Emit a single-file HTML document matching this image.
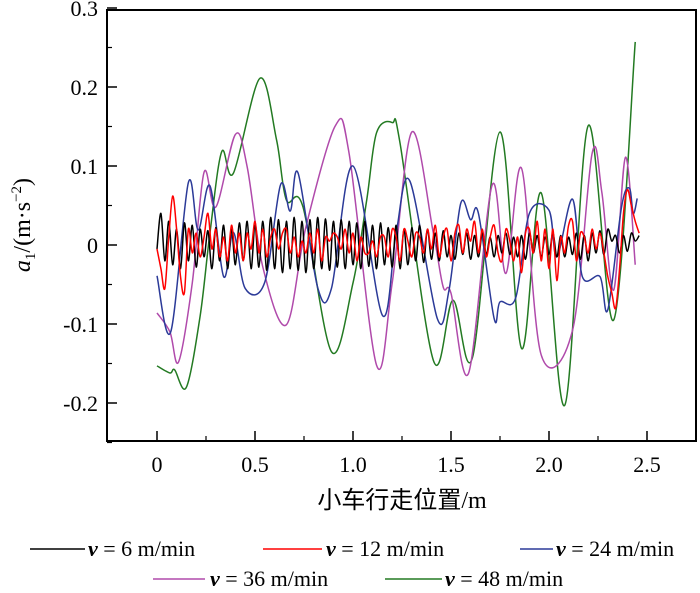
<!DOCTYPE html>
<html><head><meta charset="utf-8"><style>
body{margin:0;background:#fff;}
svg{display:block;font-family:"Liberation Serif","Noto Serif CJK SC",serif;}
</style></head><body>
<svg id="chart" width="700" height="593" viewBox="0 0 700 593">
<rect x="107" y="10" width="589" height="431" fill="none" stroke="#000" stroke-width="2"/>
<g id="ticks"></g>
<g id="series"></g>
<text x="402" y="508" font-size="24" text-anchor="middle" font-family="'Liberation Serif','Noto Sans CJK SC',serif">小车行走位置/m</text>
<text transform="translate(30,225) rotate(-90)" font-size="24" text-anchor="middle"><tspan font-style="italic">a</tspan><tspan font-size="15" dy="5">1</tspan><tspan dy="-5">/(m·s</tspan><tspan font-size="15" dy="-9">−2</tspan><tspan dy="9">)</tspan></text>
<g id="legend"></g>
</svg>
<script>
const xTicks=[0,0.5,1.0,1.5,2.0,2.5];
const xTickLabels=["0","0.5","1.0","1.5","2.0","2.5"];
const yTicks=[-0.2,-0.1,0,0.1,0.2,0.3];
const yTickLabels=["-0.2","-0.1","0","0.1","0.2","0.3"];
const seriesNames=["v = 6 m/min","v = 12 m/min","v = 24 m/min","v = 36 m/min","v = 48 m/min"];
const greenX=[0,0.066,0.09,0.15,0.22,0.27,0.33,0.39,0.525,0.61,0.66,0.745,0.89,1.0,1.07,1.12,1.2,1.24,1.41,1.51,1.61,1.75,1.86,1.96,2.08,2.2,2.33,2.44];
const greenY=[-0.153,-0.162,-0.158,-0.18,-0.09,0.015,0.118,0.091,0.211,0.133,0.057,0.048,-0.135,-0.048,0.057,0.142,0.155,0.129,-0.146,-0.07,-0.142,0.143,-0.131,0.066,-0.203,0.151,-0.095,0.257];
const purpleX=[0,0.066,0.11,0.18,0.24,0.3,0.4,0.46,0.54,0.66,0.76,0.91,0.98,1.12,1.2,1.3,1.41,1.46,1.5,1.59,1.71,1.78,1.86,1.96,2.12,2.22,2.27,2.33,2.39,2.44];
const purpleY=[-0.086,-0.11,-0.148,-0.048,0.092,0.048,0.14,0.099,-0.028,-0.101,0.023,0.151,0.116,-0.152,-0.048,0.143,0.015,-0.053,-0.061,-0.162,0.076,-0.036,0.097,-0.139,-0.108,0.116,0.066,-0.057,0.111,-0.025];
const blueX=[0,0.07,0.16,0.21,0.27,0.34,0.39,0.45,0.55,0.63,0.68,0.72,0.82,0.89,1.0,1.15,1.22,1.29,1.43,1.49,1.55,1.6,1.64,1.72,1.75,1.83,1.9,2.0,2.04,2.12,2.17,2.26,2.3,2.37,2.41,2.43,2.45];
const blueY=[-0.039,-0.11,0.079,0.019,0.075,-0.04,0.016,-0.055,-0.047,0.076,0.043,0.091,-0.054,-0.055,0.1,-0.089,0.015,0.081,-0.093,-0.057,0.053,0.032,0.04,-0.093,-0.072,-0.067,0.04,0.044,-0.015,0.058,-0.04,-0.04,-0.082,0.048,0.072,0.04,0.059];
const blackY=[-0.005,0.04,-0.02,0.03,-0.025,0.02,-0.03,0.028,-0.02,0.025,-0.028,0.02,-0.015,0.018,-0.03,0.022,-0.02,0.025,-0.03,0.02,-0.025,0.028,-0.02,0.03,-0.03,0.025,-0.028,0.03,-0.032,0.035,-0.03,0.032,-0.035,0.03,-0.03,0.035,-0.032,0.03,-0.035,0.032,-0.03,0.035,-0.03,0.033,-0.032,0.03,-0.028,0.032,-0.03,0.03,-0.025,0.028,-0.03,0.03,-0.027,0.025,-0.03,0.028,-0.025,0.022,-0.028,0.025,-0.03,0.02,-0.025,0.022,-0.02,0.025,-0.022,0.02,-0.018,0.015,-0.02,0.018,-0.015,0.012,-0.018,0.015,-0.012,0.015,-0.018,0.012,-0.015,0.015,-0.012,0.01,-0.015,0.012,-0.01,0.015,-0.012,0.01,-0.015,0.012,-0.018,0.015,-0.01,0.012,-0.015,0.01,-0.012,0.015,-0.015,0.012,-0.015,0.01,-0.012,0.015,-0.018,0.012,-0.02,0.015,-0.01,0.018,-0.012,0.02,0.005,0.012,-0.01,0.012,-0.008,0.015,0.005,0.012];
const redY=[-0.005,-0.03,-0.055,0.01,0.062,0.02,-0.04,-0.06,0.02,-0.01,0.015,-0.015,0.01,0.04,-0.005,0.02,-0.015,0.01,-0.02,0.025,-0.01,0.015,-0.02,0.015,-0.005,0.03,-0.01,0.02,-0.015,0.01,0.02,-0.005,0.015,0.02,-0.01,0.01,-0.015,0.005,-0.01,0.015,-0.01,0.02,-0.02,0.01,0.005,0.015,0.01,-0.005,0.02,-0.01,0.015,-0.02,0.01,-0.01,-0.01,0.005,-0.015,0.01,0.01,-0.015,0.02,0.01,-0.02,0.02,0.005,-0.015,0.015,0.01,-0.01,0.02,-0.005,0.025,-0.015,0.01,0.02,-0.02,0.015,0.025,-0.01,0.02,0.005,0.03,-0.01,0.02,-0.015,0.01,0.025,-0.01,-0.02,0.02,0.005,-0.02,0.01,-0.035,0.015,0.02,-0.01,0.03,-0.02,0.02,-0.03,0.02,-0.045,0.01,-0.01,0.025,0.03,-0.02,0.015,0.01,-0.01,0.02,-0.005,0.015,-0.01,-0.04,-0.06,-0.08,-0.03,0.04,0.07,0.05,0.03,0.015];
const noiseStep=0.02;

const X=v=>157+v*196, Y=v=>245-v*790;
const NS="http://www.w3.org/2000/svg";
const tg=document.getElementById('ticks');
function mk(tag,attrs,parent){const e=document.createElementNS(NS,tag);for(const k in attrs)e.setAttribute(k,attrs[k]);parent.appendChild(e);return e;}
xTicks.forEach((t,i)=>{
  const l=mk('line',{x1:X(t),x2:X(t),y1:441,y2:431,stroke:'#000','stroke-width':1.5},tg);
  
  
  if(i<xTicks.length-1){const m=mk('line',{x1:X(t+0.25),x2:X(t+0.25),y1:441,y2:436,stroke:'#000','stroke-width':1.2},tg);
  
  }
  const tx=mk('text',{x:X(t),y:472,'font-size':22,'text-anchor':'middle'},tg);tx.textContent=xTickLabels[i];
  
  
});
yTicks.forEach((t,i)=>{
  const l=mk('line',{x1:107,x2:117,y1:Y(t),y2:Y(t),stroke:'#000','stroke-width':1.5},tg);
  
  
  const m=mk('line',{x1:107,x2:112,y1:Y(t-0.05),y2:Y(t-0.05),stroke:'#000','stroke-width':1.2},tg);
  
  
  const tx=mk('text',{x:98,y:Y(t)+8,'font-size':22,'text-anchor':'end'},tg);tx.textContent=yTickLabels[i];
  
  
});
function smooth(xs,ys){const p=xs.map((x,i)=>[X(x),Y(ys[i])]);let d=`M${p[0][0]},${p[0][1]}`;
  for(let i=0;i<p.length-1;i++){const p0=p[Math.max(0,i-1)],p1=p[i],p2=p[i+1],p3=p[Math.min(p.length-1,i+2)];
  d+=`C${p1[0]+(p2[0]-p0[0])/6},${p1[1]+(p2[1]-p0[1])/6} ${p2[0]-(p3[0]-p1[0])/6},${p2[1]-(p3[1]-p1[1])/6} ${p2[0]},${p2[1]}`;}return d;}
function noisy(ys){return smooth(ys.map((v,i)=>i*noiseStep),ys);}
const sg=document.getElementById('series');
const defs=[[noisy(blackY),'#000','series-6'],[noisy(redY),'#f00','series-12'],[smooth(blueX,blueY),'#2b3a98','series-24'],[smooth(purpleX,purpleY),'#b04aab','series-36'],[smooth(greenX,greenY),'#237a22','series-48']];
const order=[4,3,2,0,1];
order.forEach(i=>{const d=defs[i];const p=mk('path',{d:d[0],fill:'none',stroke:d[1],'stroke-width':1.5},sg);
  
  });
const lg=document.getElementById('legend');
const lp=[[30,85,88,556],[263,322,326,556],[520,553,556,556],[153,205,210,586],[385,442,445,586]];
lp.forEach((q,i)=>{
  const l=mk('line',{x1:q[0],x2:q[1],y1:q[3]-7,y2:q[3]-7,stroke:defs[i][1],'stroke-width':1.5},lg);
  
  
  const t=mk('text',{x:q[2],y:q[3],'font-size':22},lg);
  
  
  const parts=seriesNames[i].split(' = ');
  const a=mk('tspan',{'font-style':'italic','font-weight':'bold'},t);a.textContent='v';
  const b=mk('tspan',{},t);b.textContent=' = '+parts[1];
});
</script>
</body></html>
